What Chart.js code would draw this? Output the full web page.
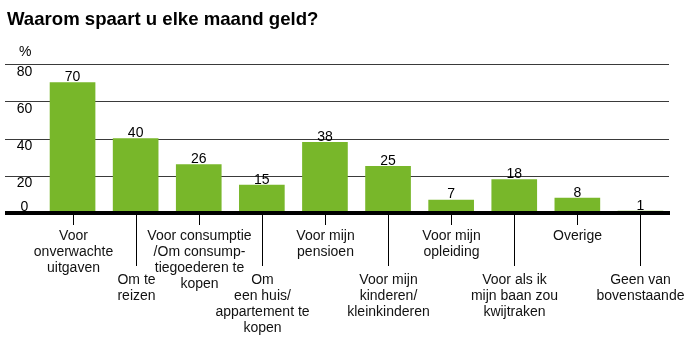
<!DOCTYPE html>
<html>
<head>
<meta charset="utf-8">
<script src="https://cdn.jsdelivr.net/npm/chart.js@4.4.0/dist/chart.umd.min.js"></script>
<style>
html,body{margin:0;padding:0;background:#fff;}
#wrap{width:700px;height:346px;position:relative;}
</style>
</head>
<body>
<div id="wrap"><canvas id="c" width="700" height="346"></canvas></div>
<script>
const title = "Waarom spaart u elke maand geld?";
const unitLabel = "%";
const categories = [
  ["Voor","onverwachte","uitgaven"],
  ["Om te","reizen"],
  ["Voor consumptie","/Om consump-","tiegoederen te","kopen"],
  ["Om","een huis/","appartement te","kopen"],
  ["Voor mijn","pensioen"],
  ["Voor mijn","kinderen/","kleinkinderen"],
  ["Voor mijn","opleiding"],
  ["Voor als ik","mijn baan zou","kwijtraken"],
  ["Overige"],
  ["Geen van","bovenstaande"]
];
const values = [70, 40, 26, 15, 38, 25, 7, 18, 8, 1];
const yTicks = [0, 20, 40, 60, 80];

const FONT = '"Liberation Sans", Arial, Helvetica, sans-serif';
const GREEN = '#78b72a';

const decor = {
  id: 'decor',
  beforeDatasetsDraw(chart) {
    const ctx = chart.ctx, y = chart.scales.y;
    ctx.save();
    // title
    ctx.fillStyle = '#000';
    ctx.font = 'bold 18.6px ' + FONT;
    ctx.textAlign = 'left';
    ctx.textBaseline = 'alphabetic';
    ctx.fillText(title, 7, 25);
    ctx.font = '14px ' + FONT;
    ctx.fillText(unitLabel, 19, 56);
    // gridlines
    yTicks.forEach(v => {
      if (v === 0) return;
      const py = Math.round(y.getPixelForValue(v)) + 0.5;
      ctx.strokeStyle = '#3a3a3a';
      ctx.lineWidth = 1.2;
      ctx.beginPath();
      ctx.moveTo(5, py);
      ctx.lineTo(669, py);
      ctx.stroke();
    });
    // y tick labels
    ctx.fillStyle = '#000';
    ctx.font = '14px ' + FONT;
    ctx.textAlign = 'center';
    yTicks.forEach(v => {
      const py = y.getPixelForValue(v);
      const ty = v === 0 ? py - 2 : py + 11.5;
      ctx.fillText(String(v), 24.5, ty);
    });
    ctx.restore();
  },
  afterDatasetsDraw(chart) {
    const ctx = chart.ctx, x = chart.scales.x, y = chart.scales.y;
    const base = y.getPixelForValue(0);
    ctx.save();
    // value labels
    ctx.fillStyle = '#000';
    ctx.font = '14px ' + FONT;
    ctx.textAlign = 'center';
    ctx.textBaseline = 'alphabetic';
    values.forEach((v, i) => {
      ctx.fillText(String(v), x.getPixelForValue(i), y.getPixelForValue(v) - 1.5);
    });
    // baseline
    ctx.fillStyle = '#000';
    ctx.fillRect(5, base - 2, 665, 4);
    // ticks and category labels
    ctx.strokeStyle = '#000';
    ctx.lineWidth = 1;
    categories.forEach((lines, i) => {
      const px = Math.round(x.getPixelForValue(i)) + 0.5;
      const low = i % 2 === 1;
      ctx.beginPath();
      ctx.moveTo(px, base + 2);
      ctx.lineTo(px, low ? base + 53 : base + 12);
      ctx.stroke();
      const y0 = low ? 284 : 240;
      ctx.font = '14px ' + FONT;
      ctx.fillStyle = '#111';
      lines.forEach((t, k) => ctx.fillText(t, px, y0 + k * 16));
    });
    ctx.restore();
  }
};

new Chart(document.getElementById('c'), {
  type: 'bar',
  data: {
    labels: categories.map(c => c.join(' ')),
    datasets: [{
      data: values,
      backgroundColor: GREEN,
      borderWidth: 0,
      barThickness: 45
    }]
  },
  options: {
    responsive: false,
    animation: false,
    devicePixelRatio: 1,
    layout: { padding: { left: 41, right: 28, top: 64, bottom: 133 } },
    plugins: { legend: { display: false }, tooltip: { enabled: false }, title: { display: false } },
    scales: {
      x: { display: false, offset: true },
      y: { display: false, min: 0, max: 80 }
    }
  },
  plugins: [decor]
});
</script>
</body>
</html>
